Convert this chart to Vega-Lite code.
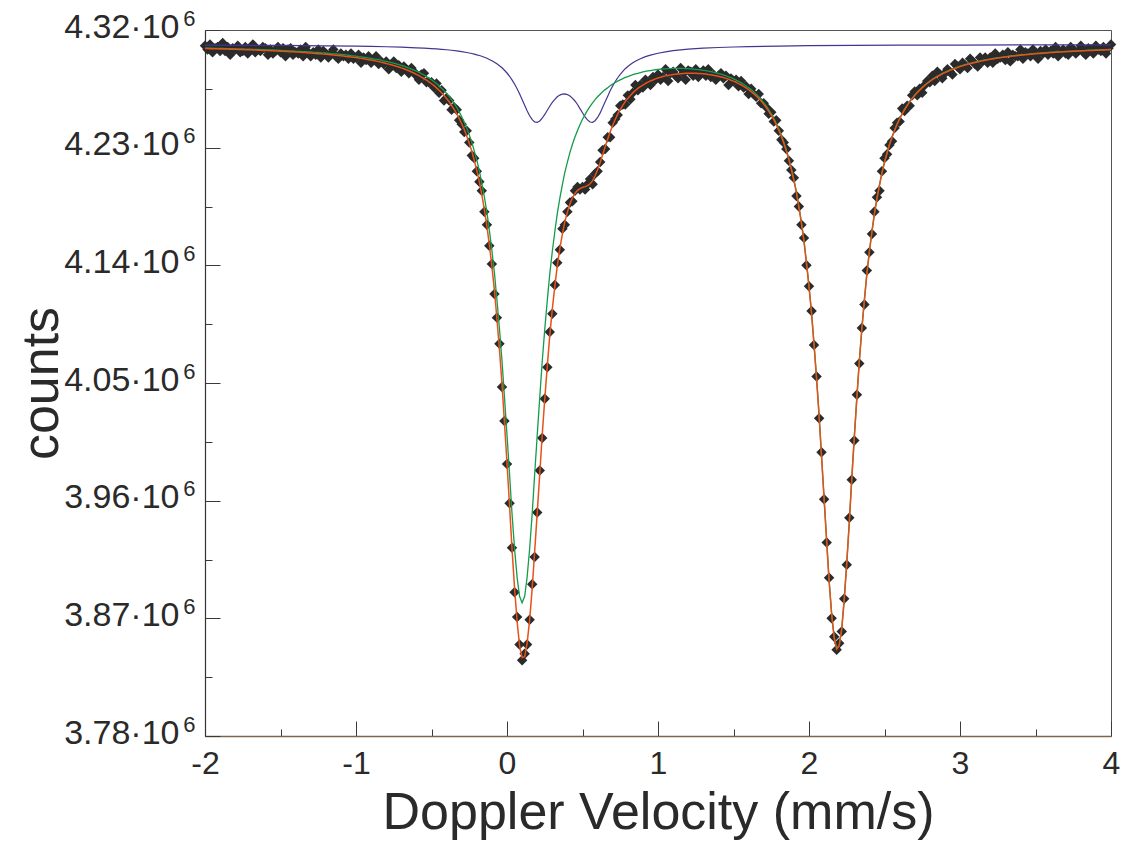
{
"$schema":"https://vega.github.io/schema/vega-lite/v6.json",
"width":906,"height":706,
"autosize":{"type":"none"},
"padding":{"left":205,"top":30,"right":18,"bottom":111},
"background":"white",
"config":{"view":{"stroke":"#555555","strokeWidth":1},"font":"Liberation Sans","axis":{"grid":false}},
"datasets":{
"channels":[
{"v":-2,"obs":4308,"fit":4305.8,"s2":4306.2},{"v":-1.983,"obs":4305,"fit":4305.8,"s2":4306.1},{"v":-1.967,"obs":4309,"fit":4305.7,"s2":4306.1},{"v":-1.95,"obs":4303,"fit":4305.7,"s2":4306.1},{"v":-1.933,"obs":4306,"fit":4305.6,"s2":4306},{"v":-1.917,"obs":4307,"fit":4305.6,"s2":4306},{"v":-1.9,"obs":4304,"fit":4305.5,"s2":4305.9},{"v":-1.883,"obs":4310,"fit":4305.5,"s2":4305.9},{"v":-1.867,"obs":4304,"fit":4305.4,"s2":4305.8},{"v":-1.85,"obs":4307,"fit":4305.4,"s2":4305.8},
{"v":-1.833,"obs":4301,"fit":4305.3,"s2":4305.7},{"v":-1.817,"obs":4306,"fit":4305.2,"s2":4305.7},{"v":-1.8,"obs":4305,"fit":4305.2,"s2":4305.6},{"v":-1.783,"obs":4308,"fit":4305.1,"s2":4305.6},{"v":-1.767,"obs":4303,"fit":4305.1,"s2":4305.5},{"v":-1.75,"obs":4304,"fit":4305,"s2":4305.5},{"v":-1.733,"obs":4307,"fit":4304.9,"s2":4305.4},{"v":-1.717,"obs":4302,"fit":4304.9,"s2":4305.4},{"v":-1.7,"obs":4306,"fit":4304.8,"s2":4305.3},{"v":-1.683,"obs":4309,"fit":4304.7,"s2":4305.2},
{"v":-1.667,"obs":4303,"fit":4304.7,"s2":4305.2},{"v":-1.65,"obs":4305,"fit":4304.6,"s2":4305.1},{"v":-1.633,"obs":4304,"fit":4304.5,"s2":4305},{"v":-1.617,"obs":4307,"fit":4304.4,"s2":4305},{"v":-1.6,"obs":4306,"fit":4304.4,"s2":4304.9},{"v":-1.583,"obs":4301,"fit":4304.3,"s2":4304.8},{"v":-1.567,"obs":4305,"fit":4304.2,"s2":4304.7},{"v":-1.55,"obs":4302,"fit":4304.1,"s2":4304.7},{"v":-1.533,"obs":4304,"fit":4304,"s2":4304.6},{"v":-1.517,"obs":4307,"fit":4303.9,"s2":4304.5},
{"v":-1.5,"obs":4303,"fit":4303.8,"s2":4304.4},{"v":-1.483,"obs":4306,"fit":4303.7,"s2":4304.3},{"v":-1.467,"obs":4300,"fit":4303.6,"s2":4304.2},{"v":-1.45,"obs":4305,"fit":4303.5,"s2":4304.1},{"v":-1.433,"obs":4306,"fit":4303.4,"s2":4304},{"v":-1.417,"obs":4301,"fit":4303.3,"s2":4304},{"v":-1.4,"obs":4303,"fit":4303.2,"s2":4303.9},{"v":-1.383,"obs":4302,"fit":4303.1,"s2":4303.7},{"v":-1.367,"obs":4305,"fit":4302.9,"s2":4303.6},{"v":-1.35,"obs":4300,"fit":4302.8,"s2":4303.5},
{"v":-1.333,"obs":4307,"fit":4302.7,"s2":4303.4},{"v":-1.317,"obs":4303,"fit":4302.5,"s2":4303.3},{"v":-1.3,"obs":4300,"fit":4302.4,"s2":4303.2},{"v":-1.283,"obs":4303,"fit":4302.3,"s2":4303},{"v":-1.267,"obs":4301,"fit":4302.1,"s2":4302.9},{"v":-1.25,"obs":4305,"fit":4301.9,"s2":4302.8},{"v":-1.233,"obs":4299,"fit":4301.8,"s2":4302.6},{"v":-1.217,"obs":4304,"fit":4301.6,"s2":4302.5},{"v":-1.2,"obs":4302,"fit":4301.5,"s2":4302.4},{"v":-1.183,"obs":4299,"fit":4301.3,"s2":4302.2},
{"v":-1.167,"obs":4302,"fit":4301.1,"s2":4302},{"v":-1.15,"obs":4305,"fit":4300.9,"s2":4301.8},{"v":-1.133,"obs":4300,"fit":4300.7,"s2":4301.7},{"v":-1.117,"obs":4298,"fit":4300.5,"s2":4301.5},{"v":-1.1,"obs":4302,"fit":4300.3,"s2":4301.3},{"v":-1.083,"obs":4300,"fit":4300.1,"s2":4301.1},{"v":-1.067,"obs":4301,"fit":4299.8,"s2":4300.9},{"v":-1.05,"obs":4298,"fit":4299.6,"s2":4300.7},{"v":-1.033,"obs":4302,"fit":4299.4,"s2":4300.4},{"v":-1.017,"obs":4298,"fit":4299.1,"s2":4300.2},
{"v":-1,"obs":4299,"fit":4298.9,"s2":4300},{"v":-0.983,"obs":4301,"fit":4298.6,"s2":4299.7},{"v":-0.967,"obs":4295,"fit":4298.3,"s2":4299.5},{"v":-0.95,"obs":4299,"fit":4298,"s2":4299.2},{"v":-0.933,"obs":4297,"fit":4297.6,"s2":4298.9},{"v":-0.917,"obs":4300,"fit":4297.3,"s2":4298.6},{"v":-0.9,"obs":4295,"fit":4297,"s2":4298.3},{"v":-0.883,"obs":4297,"fit":4296.6,"s2":4297.9},{"v":-0.867,"obs":4300,"fit":4296.2,"s2":4297.6},{"v":-0.85,"obs":4294,"fit":4295.8,"s2":4297.3},
{"v":-0.833,"obs":4296,"fit":4295.3,"s2":4296.9},{"v":-0.817,"obs":4294,"fit":4294.9,"s2":4296.4},{"v":-0.8,"obs":4296,"fit":4294.4,"s2":4296},{"v":-0.783,"obs":4290,"fit":4293.9,"s2":4295.6},{"v":-0.767,"obs":4293,"fit":4293.4,"s2":4295.1},{"v":-0.75,"obs":4296,"fit":4292.9,"s2":4294.6},{"v":-0.733,"obs":4291,"fit":4292.3,"s2":4294.1},{"v":-0.717,"obs":4293,"fit":4291.7,"s2":4293.5},{"v":-0.7,"obs":4288,"fit":4291,"s2":4292.9},{"v":-0.683,"obs":4292,"fit":4290.3,"s2":4292.3},
{"v":-0.667,"obs":4290,"fit":4289.6,"s2":4291.6},{"v":-0.65,"obs":4287,"fit":4288.8,"s2":4290.9},{"v":-0.633,"obs":4291,"fit":4287.9,"s2":4290.1},{"v":-0.617,"obs":4288,"fit":4287.1,"s2":4289.3},{"v":-0.6,"obs":4285,"fit":4286.1,"s2":4288.5},{"v":-0.583,"obs":4282,"fit":4285.1,"s2":4287.6},{"v":-0.567,"obs":4286,"fit":4284,"s2":4286.6},{"v":-0.55,"obs":4287,"fit":4282.9,"s2":4285.6},{"v":-0.533,"obs":4280,"fit":4281.6,"s2":4284.4},{"v":-0.517,"obs":4280,"fit":4280.3,"s2":4283.2},
{"v":-0.5,"obs":4280,"fit":4278.9,"s2":4281.9},{"v":-0.483,"obs":4276,"fit":4277.4,"s2":4280.5},{"v":-0.467,"obs":4279,"fit":4275.7,"s2":4279},{"v":-0.45,"obs":4272,"fit":4273.9,"s2":4277.3},{"v":-0.433,"obs":4274,"fit":4272,"s2":4275.5},{"v":-0.417,"obs":4266,"fit":4269.9,"s2":4273.6},{"v":-0.4,"obs":4268,"fit":4267.6,"s2":4271.5},{"v":-0.383,"obs":4266,"fit":4265.1,"s2":4269.2},{"v":-0.367,"obs":4259,"fit":4262.3,"s2":4266.6},{"v":-0.35,"obs":4261,"fit":4259.3,"s2":4263.9},
{"v":-0.333,"obs":4259,"fit":4256,"s2":4260.8},{"v":-0.317,"obs":4251,"fit":4252.4,"s2":4257.4},{"v":-0.3,"obs":4248,"fit":4248.3,"s2":4253.7},{"v":-0.283,"obs":4242,"fit":4243.9,"s2":4249.5},{"v":-0.267,"obs":4243,"fit":4239,"s2":4245},{"v":-0.25,"obs":4234,"fit":4233.4,"s2":4239.8},{"v":-0.233,"obs":4224,"fit":4227.3,"s2":4234.1},{"v":-0.217,"obs":4222,"fit":4220.4,"s2":4227.6},{"v":-0.2,"obs":4212,"fit":4212.6,"s2":4220.4},{"v":-0.183,"obs":4204,"fit":4203.8,"s2":4212.2},
{"v":-0.167,"obs":4197,"fit":4194,"s2":4202.9},{"v":-0.15,"obs":4181,"fit":4182.8,"s2":4192.4},{"v":-0.133,"obs":4171,"fit":4170,"s2":4180.5},{"v":-0.117,"obs":4155,"fit":4155.7,"s2":4166.9},{"v":-0.1,"obs":4141,"fit":4139.2,"s2":4151.4},{"v":-0.083,"obs":4118,"fit":4120.5,"s2":4133.9},{"v":-0.067,"obs":4100,"fit":4099.5,"s2":4114.1},{"v":-0.05,"obs":4080,"fit":4075.6,"s2":4091.7},{"v":-0.033,"obs":4047,"fit":4049.1,"s2":4066.8},{"v":-0.017,"obs":4021,"fit":4020,"s2":4039.6},
{"v":0,"obs":3988,"fit":3988.6,"s2":4010.3},{"v":0.017,"obs":3958,"fit":3955.9,"s2":3980},{"v":0.033,"obs":3924,"fit":3923.6,"s2":3950.5},{"v":0.05,"obs":3890,"fit":3893.2,"s2":3923.3},{"v":0.067,"obs":3871,"fit":3867.6,"s2":3901.3},{"v":0.083,"obs":3850,"fit":3849.3,"s2":3886.9},{"v":0.1,"obs":3838,"fit":3840,"s2":3881.9},{"v":0.117,"obs":3843,"fit":3840.6,"s2":3886.9},{"v":0.133,"obs":3850,"fit":3850.7,"s2":3901.2},{"v":0.15,"obs":3869,"fit":3868.8,"s2":3923.2},
{"v":0.167,"obs":3896,"fit":3893,"s2":3950.3},{"v":0.183,"obs":3917,"fit":3920.7,"s2":3979.8},{"v":0.2,"obs":3951,"fit":3950.3,"s2":4009.8},{"v":0.217,"obs":3983,"fit":3980.6,"s2":4039},{"v":0.233,"obs":4008,"fit":4009.8,"s2":4066.1},{"v":0.25,"obs":4038,"fit":4037.6,"s2":4091},{"v":0.267,"obs":4062,"fit":4063.1,"s2":4113.4},{"v":0.283,"obs":4089,"fit":4086,"s2":4133.1},{"v":0.3,"obs":4103,"fit":4106.4,"s2":4150.6},{"v":0.317,"obs":4125,"fit":4124.3,"s2":4166.1},
{"v":0.333,"obs":4142,"fit":4139.6,"s2":4179.5},{"v":0.35,"obs":4152,"fit":4152.9,"s2":4191.4},{"v":0.367,"obs":4168,"fit":4164.1,"s2":4201.9},{"v":0.383,"obs":4171,"fit":4173.4,"s2":4211.1},{"v":0.4,"obs":4181,"fit":4180.7,"s2":4218.9},{"v":0.417,"obs":4188,"fit":4187.1,"s2":4226.4},{"v":0.433,"obs":4189,"fit":4191.5,"s2":4232.4},{"v":0.45,"obs":4197,"fit":4195,"s2":4238.1},{"v":0.467,"obs":4200,"fit":4197.3,"s2":4243.2},{"v":0.483,"obs":4198,"fit":4198.7,"s2":4247.6},
{"v":0.5,"obs":4200,"fit":4199.6,"s2":4251.7},{"v":0.517,"obs":4198,"fit":4200.2,"s2":4255.3},{"v":0.533,"obs":4202,"fit":4201,"s2":4258.6},{"v":0.55,"obs":4206,"fit":4202.4,"s2":4261.6},{"v":0.567,"obs":4202,"fit":4204.8,"s2":4264.3},{"v":0.583,"obs":4210,"fit":4208.4,"s2":4266.7},{"v":0.6,"obs":4212,"fit":4213.1,"s2":4268.9},{"v":0.617,"obs":4219,"fit":4218.7,"s2":4270.9},{"v":0.633,"obs":4228,"fit":4224.6,"s2":4272.7},{"v":0.65,"obs":4229,"fit":4230.7,"s2":4274.4},
{"v":0.667,"obs":4238,"fit":4236.6,"s2":4275.9},{"v":0.683,"obs":4238,"fit":4242,"s2":4277.3},{"v":0.7,"obs":4249,"fit":4247.1,"s2":4278.6},{"v":0.717,"obs":4252,"fit":4251.6,"s2":4279.8},{"v":0.733,"obs":4255,"fit":4255.6,"s2":4280.9},{"v":0.75,"obs":4262,"fit":4259.2,"s2":4281.9},{"v":0.767,"obs":4263,"fit":4262.4,"s2":4282.8},{"v":0.783,"obs":4263,"fit":4265.2,"s2":4283.7},{"v":0.8,"obs":4270,"fit":4267.7,"s2":4284.4},{"v":0.817,"obs":4267,"fit":4269.9,"s2":4285.1},
{"v":0.833,"obs":4272,"fit":4271.9,"s2":4285.8},{"v":0.85,"obs":4278,"fit":4273.7,"s2":4286.4},{"v":0.867,"obs":4274,"fit":4275.3,"s2":4286.9},{"v":0.883,"obs":4278,"fit":4276.7,"s2":4287.4},{"v":0.9,"obs":4276,"fit":4277.9,"s2":4287.9},{"v":0.917,"obs":4282,"fit":4279.1,"s2":4288.3},{"v":0.933,"obs":4280,"fit":4280.1,"s2":4288.7},{"v":0.95,"obs":4278,"fit":4281,"s2":4289},{"v":0.967,"obs":4284,"fit":4281.8,"s2":4289.3},{"v":0.983,"obs":4282,"fit":4282.6,"s2":4289.6},
{"v":1,"obs":4286,"fit":4283.3,"s2":4289.8},{"v":1.017,"obs":4282,"fit":4283.8,"s2":4290},{"v":1.033,"obs":4284,"fit":4284.4,"s2":4290.2},{"v":1.05,"obs":4290,"fit":4284.9,"s2":4290.3},{"v":1.067,"obs":4281,"fit":4285.3,"s2":4290.4},{"v":1.083,"obs":4287,"fit":4285.6,"s2":4290.5},{"v":1.1,"obs":4288,"fit":4286,"s2":4290.6},{"v":1.117,"obs":4285,"fit":4286.2,"s2":4290.6},{"v":1.133,"obs":4283,"fit":4286.4,"s2":4290.6},{"v":1.15,"obs":4291,"fit":4286.6,"s2":4290.6},
{"v":1.167,"obs":4287,"fit":4286.8,"s2":4290.6},{"v":1.183,"obs":4282,"fit":4286.9,"s2":4290.5},{"v":1.2,"obs":4289,"fit":4286.9,"s2":4290.4},{"v":1.217,"obs":4288,"fit":4286.9,"s2":4290.3},{"v":1.233,"obs":4285,"fit":4286.9,"s2":4290.1},{"v":1.25,"obs":4290,"fit":4286.9,"s2":4289.9},{"v":1.267,"obs":4284,"fit":4286.8,"s2":4289.7},{"v":1.283,"obs":4287,"fit":4286.7,"s2":4289.5},{"v":1.3,"obs":4289,"fit":4286.5,"s2":4289.2},{"v":1.317,"obs":4285,"fit":4286.3,"s2":4288.9},
{"v":1.333,"obs":4290,"fit":4286,"s2":4288.5},{"v":1.35,"obs":4284,"fit":4285.8,"s2":4288.2},{"v":1.367,"obs":4286,"fit":4285.4,"s2":4287.7},{"v":1.383,"obs":4282,"fit":4285,"s2":4287.3},{"v":1.4,"obs":4285,"fit":4284.6,"s2":4286.8},{"v":1.417,"obs":4287,"fit":4284.1,"s2":4286.2},{"v":1.433,"obs":4283,"fit":4283.6,"s2":4285.6},{"v":1.45,"obs":4285,"fit":4283,"s2":4285},{"v":1.467,"obs":4278,"fit":4282.4,"s2":4284.2},{"v":1.483,"obs":4283,"fit":4281.6,"s2":4283.5},
{"v":1.5,"obs":4281,"fit":4280.9,"s2":4282.6},{"v":1.517,"obs":4282,"fit":4280,"s2":4281.7},{"v":1.533,"obs":4277,"fit":4279,"s2":4280.7},{"v":1.55,"obs":4281,"fit":4278.1,"s2":4279.7},{"v":1.567,"obs":4276,"fit":4276.9,"s2":4278.5},{"v":1.583,"obs":4277,"fit":4275.7,"s2":4277.2},{"v":1.6,"obs":4271,"fit":4274.4,"s2":4275.9},{"v":1.617,"obs":4275,"fit":4272.9,"s2":4274.4},{"v":1.633,"obs":4271,"fit":4271.3,"s2":4272.7},{"v":1.65,"obs":4269,"fit":4269.6,"s2":4270.9},
{"v":1.667,"obs":4271,"fit":4267.7,"s2":4269},{"v":1.683,"obs":4264,"fit":4265.6,"s2":4266.9},{"v":1.7,"obs":4264,"fit":4263.3,"s2":4264.5},{"v":1.717,"obs":4261,"fit":4260.7,"s2":4261.9},{"v":1.733,"obs":4256,"fit":4257.9,"s2":4259.1},{"v":1.75,"obs":4257,"fit":4254.8,"s2":4256},{"v":1.767,"obs":4250,"fit":4251.4,"s2":4252.5},{"v":1.783,"obs":4251,"fit":4247.6,"s2":4248.7},{"v":1.8,"obs":4243,"fit":4243.3,"s2":4244.4},{"v":1.817,"obs":4236,"fit":4238.6,"s2":4239.7},
{"v":1.833,"obs":4234,"fit":4233.3,"s2":4234.4},{"v":1.85,"obs":4229,"fit":4227.4,"s2":4228.4},{"v":1.867,"obs":4220,"fit":4220.7,"s2":4221.7},{"v":1.883,"obs":4213,"fit":4213.3,"s2":4214.3},{"v":1.9,"obs":4207,"fit":4204.8,"s2":4205.8},{"v":1.917,"obs":4193,"fit":4195.2,"s2":4196.1},{"v":1.933,"obs":4185,"fit":4184.4,"s2":4185.3},{"v":1.95,"obs":4171,"fit":4172,"s2":4172.9},{"v":1.967,"obs":4161,"fit":4157.9,"s2":4158.7},{"v":1.983,"obs":4140,"fit":4141.9,"s2":4142.7},
{"v":2,"obs":4124,"fit":4123.6,"s2":4124.4},{"v":2.017,"obs":4105,"fit":4102.9,"s2":4103.7},{"v":2.033,"obs":4079,"fit":4079.6,"s2":4080.4},{"v":2.05,"obs":4055,"fit":4053.5,"s2":4054.2},{"v":2.067,"obs":4023,"fit":4024.6,"s2":4025.4},{"v":2.083,"obs":3997,"fit":3993.7,"s2":3994.5},{"v":2.1,"obs":3961,"fit":3961.2,"s2":3961.9},{"v":2.117,"obs":3928,"fit":3928.7,"s2":3929.5},{"v":2.133,"obs":3901,"fit":3898.6,"s2":3899.3},{"v":2.15,"obs":3870,"fit":3872.9,"s2":3873.6},
{"v":2.167,"obs":3856,"fit":3854.8,"s2":3855.4},{"v":2.183,"obs":3846,"fit":3846.4,"s2":3847.1},{"v":2.2,"obs":3851,"fit":3848.8,"s2":3849.5},{"v":2.217,"obs":3860,"fit":3861.9,"s2":3862.5},{"v":2.233,"obs":3885,"fit":3883.7,"s2":3884.3},{"v":2.25,"obs":3911,"fit":3911.8,"s2":3912.4},{"v":2.267,"obs":3947,"fit":3943.5,"s2":3944.1},{"v":2.283,"obs":3976,"fit":3976.1,"s2":3976.7},{"v":2.3,"obs":4006,"fit":4008.2,"s2":4008.8},{"v":2.317,"obs":4041,"fit":4038.5,"s2":4039},
{"v":2.333,"obs":4065,"fit":4066.1,"s2":4066.6},{"v":2.35,"obs":4092,"fit":4091.1,"s2":4091.7},{"v":2.367,"obs":4110,"fit":4113.4,"s2":4114},{"v":2.383,"obs":4136,"fit":4133,"s2":4133.6},{"v":2.4,"obs":4150,"fit":4150.4,"s2":4151},{"v":2.417,"obs":4164,"fit":4165.7,"s2":4166.2},{"v":2.433,"obs":4181,"fit":4179.1,"s2":4179.6},{"v":2.45,"obs":4192,"fit":4190.9,"s2":4191.4},{"v":2.467,"obs":4197,"fit":4201.3,"s2":4201.8},{"v":2.483,"obs":4212,"fit":4210.4,"s2":4210.9},
{"v":2.5,"obs":4222,"fit":4218.6,"s2":4219.1},{"v":2.517,"obs":4225,"fit":4225.8,"s2":4226.3},{"v":2.533,"obs":4232,"fit":4232.2,"s2":4232.7},{"v":2.55,"obs":4235,"fit":4238,"s2":4238.4},{"v":2.567,"obs":4245,"fit":4243.1,"s2":4243.6},{"v":2.583,"obs":4249,"fit":4247.7,"s2":4248.2},{"v":2.6,"obs":4250,"fit":4251.9,"s2":4252.3},{"v":2.617,"obs":4260,"fit":4255.7,"s2":4256.1},{"v":2.633,"obs":4258,"fit":4259,"s2":4259.5},{"v":2.65,"obs":4262,"fit":4262.2,"s2":4262.6},
{"v":2.667,"obs":4262,"fit":4265,"s2":4265.4},{"v":2.683,"obs":4270,"fit":4267.5,"s2":4267.9},{"v":2.7,"obs":4273,"fit":4269.9,"s2":4270.3},{"v":2.717,"obs":4270,"fit":4272.1,"s2":4272.5},{"v":2.733,"obs":4275,"fit":4274,"s2":4274.4},{"v":2.75,"obs":4272,"fit":4275.9,"s2":4276.3},{"v":2.767,"obs":4278,"fit":4277.6,"s2":4277.9},{"v":2.783,"obs":4281,"fit":4279.1,"s2":4279.5},{"v":2.8,"obs":4280,"fit":4280.6,"s2":4280.9},{"v":2.817,"obs":4285,"fit":4282,"s2":4282.3},
{"v":2.833,"obs":4281,"fit":4283.2,"s2":4283.6},{"v":2.85,"obs":4288,"fit":4284.3,"s2":4284.7},{"v":2.867,"obs":4286,"fit":4285.4,"s2":4285.7},{"v":2.883,"obs":4283,"fit":4286.4,"s2":4286.8},{"v":2.9,"obs":4287,"fit":4287.4,"s2":4287.7},{"v":2.917,"obs":4290,"fit":4288.3,"s2":4288.6},{"v":2.933,"obs":4288,"fit":4289.1,"s2":4289.4},{"v":2.95,"obs":4286,"fit":4289.9,"s2":4290.2},{"v":2.967,"obs":4294,"fit":4290.6,"s2":4290.9},{"v":2.983,"obs":4292,"fit":4291.3,"s2":4291.6},
{"v":3,"obs":4290,"fit":4292,"s2":4292.3},{"v":3.017,"obs":4295,"fit":4292.6,"s2":4292.9},{"v":3.033,"obs":4293,"fit":4293.2,"s2":4293.5},{"v":3.05,"obs":4291,"fit":4293.7,"s2":4294},{"v":3.067,"obs":4298,"fit":4294.2,"s2":4294.5},{"v":3.083,"obs":4296,"fit":4294.7,"s2":4295},{"v":3.1,"obs":4294,"fit":4295.2,"s2":4295.5},{"v":3.117,"obs":4292,"fit":4295.6,"s2":4295.9},{"v":3.133,"obs":4299,"fit":4296,"s2":4296.3},{"v":3.15,"obs":4296,"fit":4296.4,"s2":4296.7},
{"v":3.167,"obs":4299,"fit":4296.8,"s2":4297.1},{"v":3.183,"obs":4295,"fit":4297.2,"s2":4297.5},{"v":3.2,"obs":4299,"fit":4297.6,"s2":4297.8},{"v":3.217,"obs":4295,"fit":4297.9,"s2":4298.2},{"v":3.233,"obs":4302,"fit":4298.2,"s2":4298.5},{"v":3.25,"obs":4298,"fit":4298.5,"s2":4298.8},{"v":3.267,"obs":4299,"fit":4298.8,"s2":4299.1},{"v":3.283,"obs":4301,"fit":4299.1,"s2":4299.3},{"v":3.3,"obs":4297,"fit":4299.4,"s2":4299.6},{"v":3.317,"obs":4303,"fit":4299.6,"s2":4299.9},
{"v":3.333,"obs":4296,"fit":4299.9,"s2":4300.1},{"v":3.35,"obs":4301,"fit":4300.1,"s2":4300.3},{"v":3.367,"obs":4300,"fit":4300.3,"s2":4300.5},{"v":3.383,"obs":4300,"fit":4300.5,"s2":4300.8},{"v":3.4,"obs":4305,"fit":4300.7,"s2":4301},{"v":3.417,"obs":4298,"fit":4300.9,"s2":4301.2},{"v":3.433,"obs":4303,"fit":4301.1,"s2":4301.4},{"v":3.45,"obs":4302,"fit":4301.3,"s2":4301.5},{"v":3.467,"obs":4300,"fit":4301.5,"s2":4301.7},{"v":3.483,"obs":4305,"fit":4301.7,"s2":4301.9},
{"v":3.5,"obs":4301,"fit":4301.8,"s2":4302.1},{"v":3.517,"obs":4298,"fit":4302,"s2":4302.2},{"v":3.533,"obs":4304,"fit":4302.1,"s2":4302.4},{"v":3.55,"obs":4302,"fit":4302.3,"s2":4302.5},{"v":3.567,"obs":4305,"fit":4302.4,"s2":4302.7},{"v":3.583,"obs":4301,"fit":4302.6,"s2":4302.8},{"v":3.6,"obs":4304,"fit":4302.7,"s2":4302.9},{"v":3.617,"obs":4302,"fit":4302.8,"s2":4303.1},{"v":3.633,"obs":4307,"fit":4303,"s2":4303.2},{"v":3.65,"obs":4300,"fit":4303.1,"s2":4303.3},
{"v":3.667,"obs":4303,"fit":4303.2,"s2":4303.4},{"v":3.683,"obs":4305,"fit":4303.3,"s2":4303.5},{"v":3.7,"obs":4302,"fit":4303.4,"s2":4303.6},{"v":3.717,"obs":4301,"fit":4303.5,"s2":4303.7},{"v":3.733,"obs":4307,"fit":4303.6,"s2":4303.8},{"v":3.75,"obs":4305,"fit":4303.7,"s2":4303.9},{"v":3.767,"obs":4302,"fit":4303.8,"s2":4304},{"v":3.783,"obs":4304,"fit":4303.9,"s2":4304.1},{"v":3.8,"obs":4308,"fit":4304,"s2":4304.2},{"v":3.817,"obs":4303,"fit":4304.1,"s2":4304.3},
{"v":3.833,"obs":4301,"fit":4304.2,"s2":4304.4},{"v":3.85,"obs":4306,"fit":4304.3,"s2":4304.5},{"v":3.867,"obs":4305,"fit":4304.4,"s2":4304.6},{"v":3.883,"obs":4302,"fit":4304.4,"s2":4304.6},{"v":3.9,"obs":4308,"fit":4304.5,"s2":4304.7},{"v":3.917,"obs":4305,"fit":4304.6,"s2":4304.8},{"v":3.933,"obs":4304,"fit":4304.7,"s2":4304.9},{"v":3.95,"obs":4307,"fit":4304.7,"s2":4304.9},{"v":3.967,"obs":4302,"fit":4304.8,"s2":4305},{"v":3.983,"obs":4306,"fit":4304.9,"s2":4305.1},
{"v":4,"obs":4309,"fit":4305,"s2":4305.1}
],
"site1":[
{"v":-2,"s1":4308.4},{"v":-1.5,"s1":4308.2},{"v":-1.2,"s1":4307.9},{"v":-1,"s1":4307.7},{"v":-0.9,"s1":4307.5},{"v":-0.8,"s1":4307.2},{"v":-0.7,"s1":4306.9},{"v":-0.6,"s1":4306.4},{"v":-0.55,"s1":4306.1},{"v":-0.5,"s1":4305.8},
{"v":-0.467,"s1":4305.5},{"v":-0.433,"s1":4305.2},{"v":-0.4,"s1":4304.9},{"v":-0.367,"s1":4304.5},{"v":-0.333,"s1":4304},{"v":-0.3,"s1":4303.5},{"v":-0.267,"s1":4302.8},{"v":-0.233,"s1":4302},{"v":-0.217,"s1":4301.5},{"v":-0.2,"s1":4301},
{"v":-0.183,"s1":4300.5},{"v":-0.167,"s1":4299.9},{"v":-0.15,"s1":4299.2},{"v":-0.133,"s1":4298.4},{"v":-0.117,"s1":4297.5},{"v":-0.1,"s1":4296.5},{"v":-0.083,"s1":4295.4},{"v":-0.067,"s1":4294.2},{"v":-0.05,"s1":4292.7},{"v":-0.033,"s1":4291.1},
{"v":-0.017,"s1":4289.2},{"v":0,"s1":4287.1},{"v":0.017,"s1":4284.6},{"v":0.033,"s1":4281.9},{"v":0.05,"s1":4278.7},{"v":0.067,"s1":4275.1},{"v":0.083,"s1":4271.2},{"v":0.1,"s1":4266.9},{"v":0.117,"s1":4262.5},{"v":0.133,"s1":4258.3},
{"v":0.15,"s1":4254.4},{"v":0.167,"s1":4251.4},{"v":0.183,"s1":4249.7},{"v":0.2,"s1":4249.3},{"v":0.217,"s1":4250.4},{"v":0.233,"s1":4252.5},{"v":0.25,"s1":4255.4},{"v":0.267,"s1":4258.6},{"v":0.283,"s1":4261.7},{"v":0.3,"s1":4264.6},
{"v":0.317,"s1":4267},{"v":0.333,"s1":4268.9},{"v":0.35,"s1":4270.2},{"v":0.367,"s1":4271},{"v":0.383,"s1":4271.1},{"v":0.4,"s1":4270.6},{"v":0.417,"s1":4269.5},{"v":0.433,"s1":4267.9},{"v":0.45,"s1":4265.7},{"v":0.467,"s1":4263},
{"v":0.483,"s1":4259.9},{"v":0.5,"s1":4256.7},{"v":0.517,"s1":4253.6},{"v":0.533,"s1":4251.2},{"v":0.55,"s1":4249.6},{"v":0.567,"s1":4249.4},{"v":0.583,"s1":4250.6},{"v":0.6,"s1":4253.1},{"v":0.617,"s1":4256.6},{"v":0.633,"s1":4260.7},
{"v":0.65,"s1":4265.1},{"v":0.667,"s1":4269.4},{"v":0.683,"s1":4273.5},{"v":0.7,"s1":4277.2},{"v":0.717,"s1":4280.6},{"v":0.733,"s1":4283.5},{"v":0.75,"s1":4286.1},{"v":0.767,"s1":4288.4},{"v":0.783,"s1":4290.4},{"v":0.8,"s1":4292.1},
{"v":0.817,"s1":4293.6},{"v":0.833,"s1":4294.9},{"v":0.85,"s1":4296.1},{"v":0.883,"s1":4298},{"v":0.917,"s1":4299.6},{"v":0.95,"s1":4300.8},{"v":1,"s1":4302.2},{"v":1.05,"s1":4303.3},{"v":1.1,"s1":4304.2},{"v":1.2,"s1":4305.3},
{"v":1.3,"s1":4306.1},{"v":1.4,"s1":4306.6},{"v":1.5,"s1":4307},{"v":1.6,"s1":4307.3},{"v":1.8,"s1":4307.7},{"v":2,"s1":4308},{"v":2.3,"s1":4308.2},{"v":2.6,"s1":4308.4},{"v":3,"s1":4308.5},{"v":3.5,"s1":4308.6},{"v":4,"s1":4308.6}
]
},
"resolve":{"axis":{"x":"independent","y":"independent"}},
"layer":[
{"data":{"name":"channels"},
 "mark":{"type":"point","shape":"diamond","filled":true,"size":110,"color":"#2b2b2b","opacity":1,"strokeWidth":0},
 "encoding":{
  "x":{"field":"v","type":"quantitative","scale":{"domain":[-2,4],"nice":false,"zero":false},
       "axis":{"orient":"bottom","values":[-1.5,-0.5,0.5,1.5,2.5,3.5],"labels":false,"domain":false,"tickSize":-7,"tickColor":"#3a3a3a","title":null,"grid":false}},
  "y":{"field":"obs","type":"quantitative","scale":{"domain":[3780,4320],"nice":false,"zero":false},
       "axis":{"orient":"left","values":[3825,3915,4005,4095,4185,4275],"labels":false,"domain":false,"tickSize":-7,"tickColor":"#3a3a3a","title":null,"grid":false}}
 }},
{"data":{"name":"site1"},
 "mark":{"type":"line","color":"#43368f","strokeWidth":1.2},
 "encoding":{
  "x":{"field":"v","type":"quantitative","scale":{"domain":[-2,4],"nice":false,"zero":false},"axis":null},
  "y":{"field":"s1","type":"quantitative","scale":{"domain":[3780,4320],"nice":false,"zero":false},
       "axis":{"orient":"left","values":[3780,3870,3960,4050,4140,4230,4320],"labelExpr":"'6'","ticks":true,"tickSize":-15,"tickOpacity":0,"domain":false,"labelFontSize":22,"labelColor":"#2a2a2a","labelPadding":25,"labelOffset":-12,"title":null,"grid":false}}
 }},
{"data":{"name":"channels"},
 "mark":{"type":"line","color":"#129c4c","strokeWidth":1.3},
 "encoding":{
  "x":{"field":"v","type":"quantitative","scale":{"domain":[-2,4],"nice":false,"zero":false},"axis":null},
  "y":{"field":"s2","type":"quantitative","scale":{"domain":[3780,4320],"nice":false,"zero":false},"axis":null}
 }},
{"data":{"name":"channels"},
 "mark":{"type":"line","color":"#e5521a","strokeWidth":1.5},
 "encoding":{
  "x":{"field":"v","type":"quantitative","scale":{"domain":[-2,4],"nice":false,"zero":false},
       "axis":{"orient":"bottom","values":[-2,-1,0,1,2,3,4],"labelExpr":"'' + datum.value","labelFlush":false,"tickSize":-15,"tickColor":"#3a3a3a","labelFontSize":32,"labelColor":"#2a2a2a","labelPadding":27,"domainColor":"#7d6650","domainWidth":1.5,"title":"Doppler Velocity (mm/s)","titleFontSize":52,"titleFontWeight":"normal","titleColor":"#2a2a2a","titleY":51,"grid":false}},
  "y":{"field":"fit","type":"quantitative","scale":{"domain":[3780,4320],"nice":false,"zero":false},
       "axis":{"orient":"left","values":[3780,3870,3960,4050,4140,4230,4320],"labelExpr":"format(datum.value/1000,'.2f') + '·10'","tickSize":-15,"tickColor":"#3a3a3a","labelFontSize":34,"labelColor":"#2a2a2a","labelPadding":41,"labelOffset":-3,"domainColor":"#333333","domainWidth":1.2,"title":"counts","titleFontSize":52,"titleFontWeight":"normal","titleColor":"#2a2a2a","titleX":-137,"titleY":353,"grid":false}}
 }}
]
}
